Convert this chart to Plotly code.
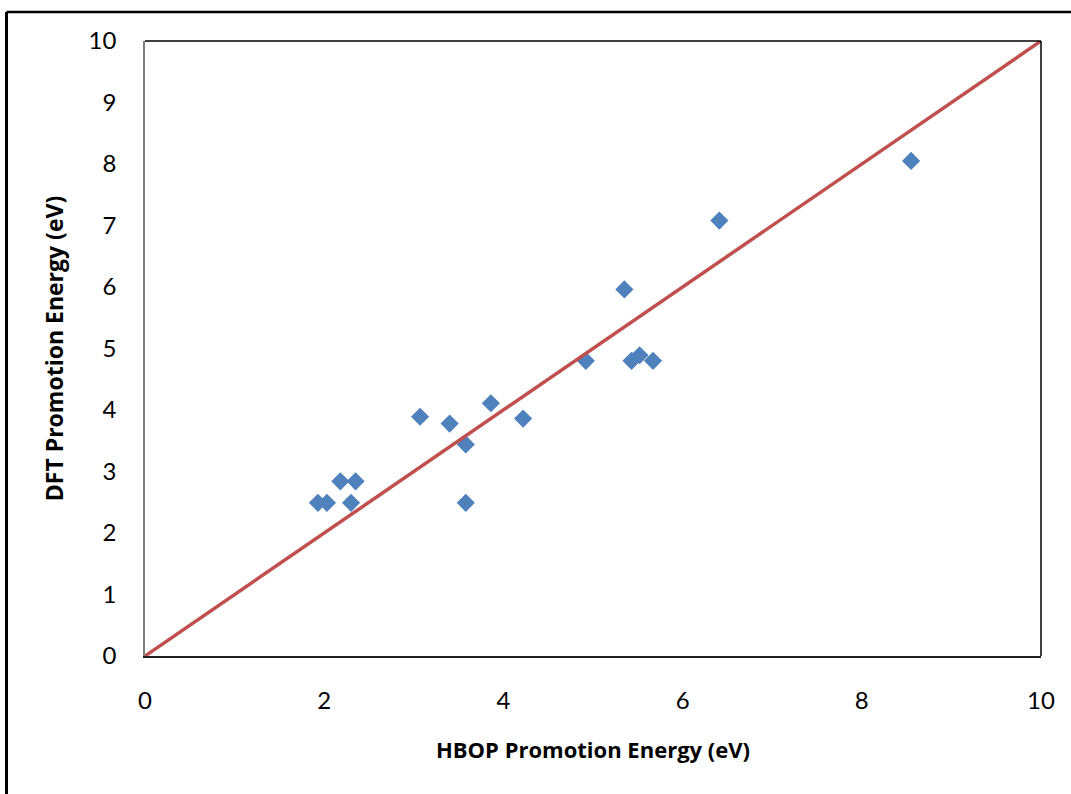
import plotly.graph_objects as go

# Data
hbop_energy = [1.93, 2.03, 2.18, 2.35, 2.30, 3.07, 3.40, 3.58, 3.58, 3.86, 4.22,
               4.92, 5.35, 5.43, 5.52, 5.67, 6.41, 8.55]
dft_energy = [2.49, 2.49, 2.84, 2.84, 2.49, 3.89, 3.78, 3.44, 2.49, 4.11, 3.86,
              4.80, 5.96, 4.80, 4.89, 4.80, 7.08, 8.05]
diag_x = [0, 10]
diag_y = [0, 10]
x_ticks = [0, 2, 4, 6, 8, 10]
y_ticks = [0, 1, 2, 3, 4, 5, 6, 7, 8, 9, 10]

W, H = 1071, 794
ML, MR, MT, MB = 145, 30, 41, 138
PW, PH = W - ML - MR, H - MT - MB

TICK_FONT = "Lato"
TITLE_FONT = "Open Sans"

fig = go.Figure()
fig.add_trace(go.Scatter(
    x=hbop_energy, y=dft_energy, mode="markers",
    marker=dict(symbol="diamond", size=14, color="#4F81BD", line=dict(width=0)),
    showlegend=False, cliponaxis=False,
))
fig.add_trace(go.Scatter(
    x=diag_x, y=diag_y, mode="lines",
    line=dict(color="#C0504D", width=3.5),
    showlegend=False, cliponaxis=False,
))


def px_x(p):
    return (p - ML) / PW


def px_y(p):
    return (H - MB - p) / PH


shapes = [
    # outer chart frame (top and left edges visible)
    dict(type="line", xref="paper", yref="paper", x0=px_x(6.5), x1=px_x(W + 5),
         y0=px_y(12), y1=px_y(12), line=dict(color="black", width=2.5)),
    dict(type="line", xref="paper", yref="paper", x0=px_x(6.5), x1=px_x(6.5),
         y0=px_y(12), y1=px_y(H + 5), line=dict(color="black", width=3)),
    # plot area top and right border
    dict(type="line", xref="paper", yref="paper", x0=0, x1=1, y0=1, y1=1,
         line=dict(color="black", width=1.5)),
    dict(type="line", xref="paper", yref="paper", x0=1, x1=1, y0=0, y1=1,
         line=dict(color="black", width=1.5)),
]

fig.update_layout(
    width=W, height=H,
    margin=dict(l=ML, r=MR, t=MT, b=MB, autoexpand=False),
    paper_bgcolor="white", plot_bgcolor="white",
    font=dict(family=TICK_FONT, color="black"),
    shapes=shapes,
    xaxis=dict(
        range=[0, 10], tickvals=x_ticks, showgrid=False, zeroline=False,
        showline=True, linecolor="#202020", linewidth=1.5, ticks="",
        tickfont=dict(size=24, family=TICK_FONT), ticklabelstandoff=22,
        title=dict(text="<b>HBOP Promotion Energy (eV)</b>",
                   font=dict(size=22, family=TITLE_FONT), standoff=30),
        fixedrange=True,
    ),
    yaxis=dict(
        range=[0, 10], tickvals=y_ticks, showgrid=False, zeroline=False,
        showline=True, linecolor="#808080", linewidth=1.5, ticks="",
        tickfont=dict(size=24, family=TICK_FONT), ticklabelstandoff=22,
        title=dict(text="<b>DFT Promotion Energy (eV)</b>",
                   font=dict(size=23, family=TITLE_FONT), standoff=19),
        fixedrange=True,
    ),
)

fig.write_html("out.html", config={"displayModeBar": False},
               post_script="document.body.style.margin='0';")
